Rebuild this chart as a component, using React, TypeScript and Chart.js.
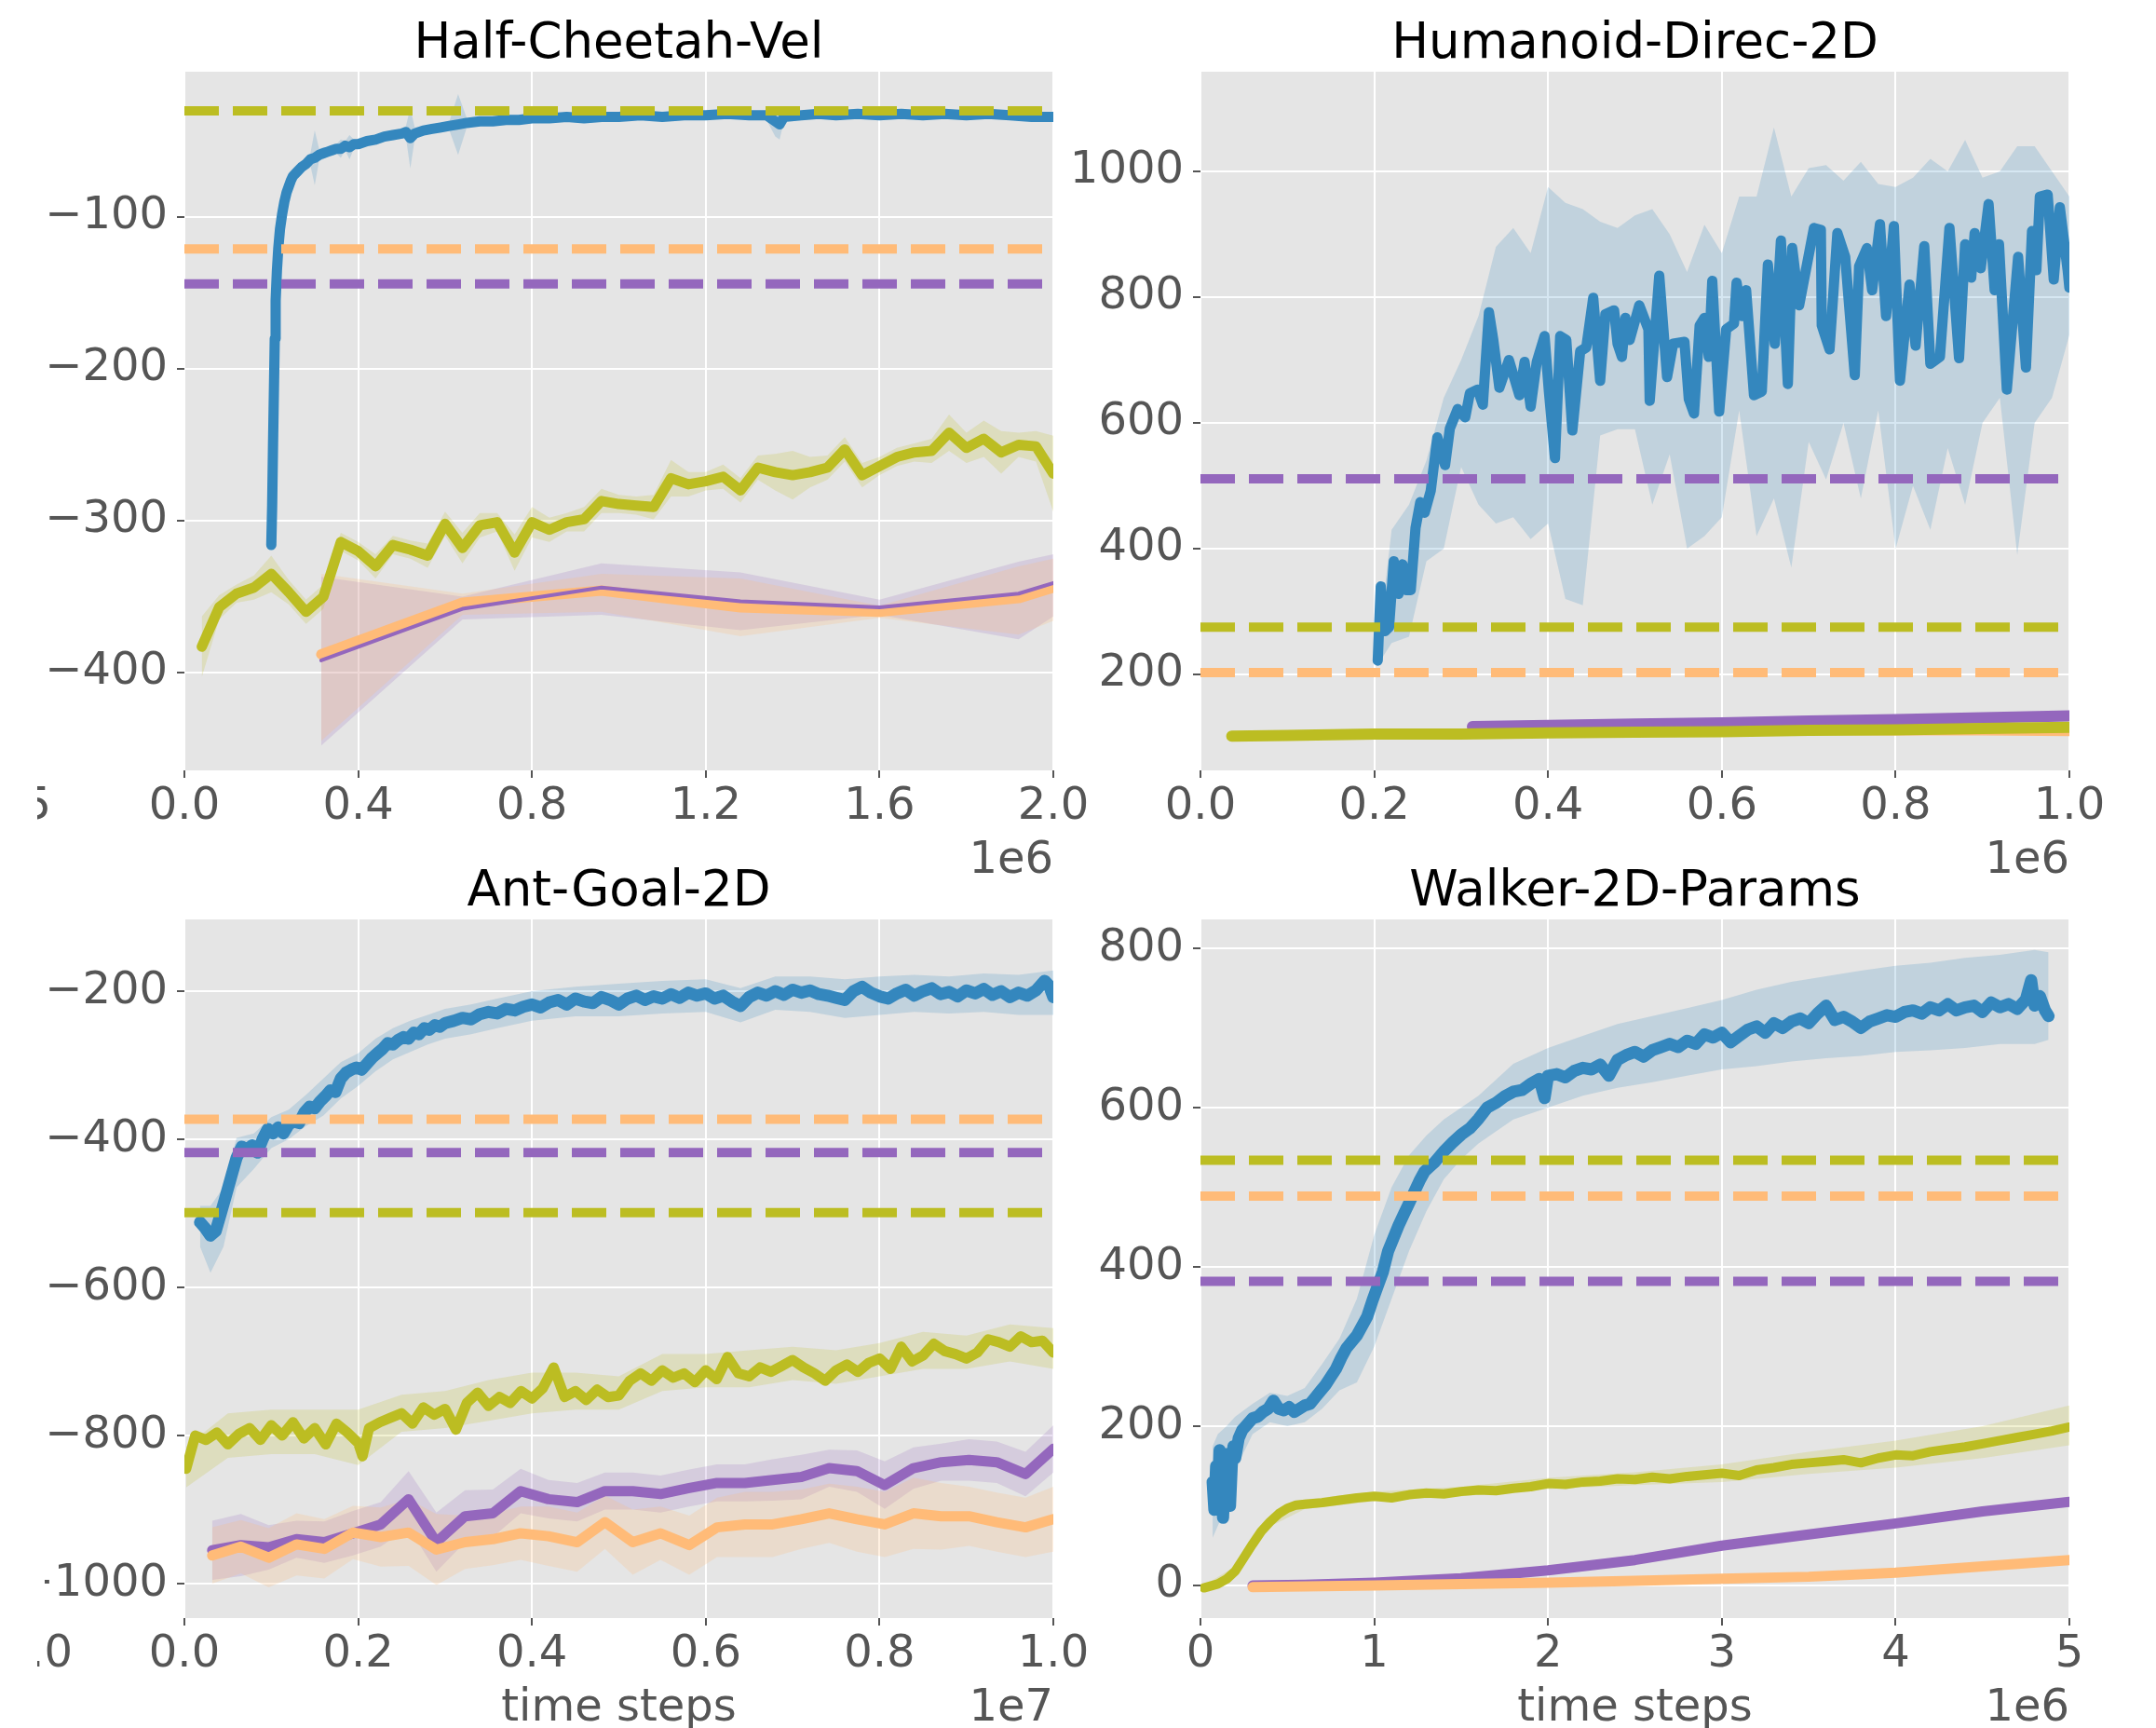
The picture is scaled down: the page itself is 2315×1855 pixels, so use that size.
import React, { useEffect, useRef } from "react";
import { Chart, registerables } from "chart.js";

Chart.register(...registerables);

const FIG_W = 2315;
const FIG_H = 1855;
const FONT = '"DejaVu Sans", sans-serif';
const TICK_SIZE = 48;
const TITLE_SIZE = 53;
const Y_AXIS_W = 150;
const X_AXIS_H = 80;
const X_TICK_PAD = 3;
const Y_TICK_PAD = 10;
const TICK_LEN = 8;

const BLUE = "#3487BE";
const OLIVE = "#BCBD22";
const ORANGE = "#FFBB78";
const PURPLE = "#9467BD";
const BLUE_FILL = "rgba(52,135,190,0.2)";
const OLIVE_FILL = "rgba(188,189,34,0.2)";
const ORANGE_FILL = "rgba(255,187,120,0.22)";
const PURPLE_FILL = "rgba(148,103,189,0.2)";

// ---------------- Half-Cheetah-Vel (x in 1e6) ----------------
const hcBlueX = [0.2,0.202,0.204,0.206,0.208,0.21,0.213,0.216,0.22,0.225,0.23,0.235,0.24,0.245,0.25,0.26,0.27,0.28,0.29,0.3,0.31,0.32,0.33,0.34,0.35,0.36,0.37,0.38,0.39,0.4,0.42,0.44,0.46,0.48,0.5,0.51,0.52,0.53,0.55,0.57,0.59,0.61,0.63,0.65,0.68,0.71,0.74,0.77,0.8,0.84,0.88,0.92,0.96,1.0,1.05,1.1,1.15,1.2,1.25,1.3,1.34,1.36,1.37,1.38,1.42,1.46,1.5,1.55,1.6,1.65,1.7,1.75,1.8,1.85,1.9,1.95,2.0];
const hcBlueY = [-316,-290,-250,-215,-180,-155,-135,-121,-108,-98,-90,-84,-80,-76,-73,-70,-67,-65,-62,-61,-59,-58,-57,-56,-55,-55,-53,-54,-52,-52,-50,-49,-47,-46,-45,-44,-48,-45,-43,-42,-41,-40,-39,-38,-37,-37,-36,-36,-35,-35,-34,-35,-34,-34,-33,-34,-33,-33,-32,-33,-33,-37,-39,-34,-33,-32,-33,-32,-33,-32,-33,-32,-33,-32,-33,-34,-34];
const hcBlueSpread = [4,4,4,4,4,4,4,4,4,4,4,4,4,4,4,4,4,4,4,18,4,4,3,3,3,6,3,8,3,3,3,3,3,3,3,4,20,4,3,3,3,3,20,3,3,3,3,3,3,3,3,3,3,3,3,3,3,3,3,3,3,10,10,3,3,3,3,3,3,3,3,3,3,3,3,3,3];
const hcOliveX = [0.04,0.08,0.12,0.16,0.2,0.24,0.28,0.32,0.36,0.4,0.44,0.48,0.52,0.56,0.6,0.64,0.68,0.72,0.76,0.8,0.84,0.88,0.92,0.96,1.0,1.04,1.08,1.12,1.16,1.2,1.24,1.28,1.32,1.36,1.4,1.44,1.48,1.52,1.56,1.6,1.64,1.68,1.72,1.76,1.8,1.84,1.88,1.92,1.96,2.0];
const hcOliveY = [-383,-357,-348,-344,-335,-347,-360,-350,-314,-320,-330,-316,-319,-323,-302,-318,-303,-301,-321,-301,-306,-301,-299,-287,-289,-290,-291,-272,-276,-274,-271,-280,-265,-268,-270,-268,-265,-253,-270,-264,-258,-255,-254,-242,-252,-246,-255,-250,-251,-269];
const hcOliveSpread = [20,8,6,8,12,8,8,8,6,6,8,6,6,8,8,10,8,6,12,10,8,6,8,8,6,6,8,12,8,6,8,8,8,12,16,10,8,8,8,6,6,6,8,12,10,12,14,8,10,25];
const hcOtherX = [0.315,0.64,0.96,1.28,1.6,1.92,2.0];
const hcOrangeY = [-388,-354,-346,-357,-360,-351,-344];
const hcOrangeLo = [-445,-362,-360,-376,-364,-375,-366];
const hcOrangeHi = [-335,-348,-335,-338,-356,-330,-325];
const hcPurpleY = [-392,-358,-344,-353,-357,-348,-341];
const hcPurpleLo = [-448,-365,-362,-372,-362,-378,-363];
const hcPurpleHi = [-337,-350,-328,-334,-352,-327,-322];
const hcDashed = [-30, -121, -144]; // olive, orange, purple
const hcXTicks = [0, 0.4, 0.8, 1.2, 1.6, 2.0];
const hcXTickLabels = ["0.0", "0.4", "0.8", "1.2", "1.6", "2.0"];
const hcYTicks = [-100, -200, -300, -400];
const hcYTickLabels = ["\u2212100", "\u2212200", "\u2212300", "\u2212400"];

// ---------------- Humanoid-Direc-2D (x in 1e6) ----------------
const humBlueX = [0.204,0.2075,0.2125,0.217,0.2225,0.228,0.2325,0.237,0.242,0.2475,0.253,0.258,0.265,0.2726,0.2815,0.287,0.296,0.3047,0.31,0.319,0.325,0.332,0.337,0.344,0.355,0.367,0.373,0.38,0.387,0.396,0.401,0.408,0.414,0.421,0.428,0.437,0.444,0.452,0.46,0.466,0.476,0.48,0.485,0.489,0.494,0.505,0.5155,0.517,0.528,0.537,0.544,0.557,0.562,0.568,0.5745,0.58,0.585,0.589,0.597,0.605,0.614,0.617,0.623,0.628,0.637,0.646,0.653,0.661,0.668,0.676,0.681,0.689,0.706,0.714,0.715,0.724,0.733,0.742,0.753,0.758,0.767,0.773,0.782,0.789,0.798,0.805,0.816,0.823,0.833,0.84,0.851,0.862,0.873,0.88,0.887,0.891,0.898,0.907,0.914,0.919,0.928,0.941,0.95,0.957,0.962,0.966,0.975,0.982,0.989,0.998,1.0];
const humBlueY = [222,340,269,275,380,328,375,334,334,433,474,457,492,577,533,591,622,609,647,653,629,776,732,656,700,644,697,626,697,738,650,544,738,732,588,714,720,799,667,773,779,726,705,767,732,787,749,635,834,673,726,729,638,615,755,767,705,826,618,749,758,823,770,811,644,650,852,726,890,662,878,787,910,907,755,717,902,864,676,849,878,811,916,770,913,667,820,723,881,694,705,910,703,884,831,902,846,948,811,884,653,864,688,905,843,960,963,828,943,843,815];
const humBandX = [0.204,0.22,0.24,0.26,0.28,0.3,0.32,0.34,0.36,0.38,0.4,0.42,0.44,0.46,0.48,0.5,0.52,0.54,0.56,0.58,0.6,0.62,0.64,0.66,0.68,0.7,0.72,0.74,0.76,0.78,0.8,0.82,0.84,0.86,0.88,0.9,0.92,0.94,0.96,0.98,1.0];
const humBandHi = [240,430,470,540,640,700,770,880,910,870,975,950,940,920,910,930,940,900,840,915,870,960,960,1070,960,1005,1010,985,1015,980,975,990,1020,1000,1050,990,1000,1040,1040,1000,960];
const humBandLo = [215,250,260,380,400,530,470,440,450,415,440,320,310,580,590,590,470,550,400,420,450,620,420,480,370,570,510,600,480,620,400,500,430,560,470,600,640,390,600,640,740];
const humOliveX = [0.036,0.1,0.2,0.3,0.4,0.5,0.6,0.7,0.8,0.9,1.0];
const humOliveY = [102,103,105,105,107,108,109,111,112,114,116];
const humOtherX = [0.313,0.4,0.5,0.6,0.7,0.8,0.9,1.0];
const humPurpleY = [117,119,121,123,126,128,131,134];
const humPurpleLo = [114,115,116,118,120,122,124,127];
const humPurpleHi = [120,123,126,128,132,134,138,141];
const humOrangeY = [116,114,113,112,112,111,111,110];
const humDashed = [275, 203, 511]; // olive, orange, purple
const humXTicks = [0, 0.2, 0.4, 0.6, 0.8, 1.0];
const humXTickLabels = ["0.0", "0.2", "0.4", "0.6", "0.8", "1.0"];
const humYTicks = [200, 400, 600, 800, 1000];
const humYTickLabels = ["200", "400", "600", "800", "1000"];

// ---------------- Ant-Goal-2D (x in 1e7) ----------------
const antBlueX = [0.018,0.024,0.03,0.036,0.042,0.048,0.054,0.06,0.066,0.072,0.078,0.084,0.09,0.096,0.102,0.108,0.114,0.12,0.126,0.132,0.138,0.144,0.15,0.156,0.162,0.168,0.174,0.18,0.186,0.192,0.198,0.204,0.21,0.216,0.222,0.228,0.234,0.24,0.246,0.252,0.258,0.264,0.27,0.276,0.282,0.288,0.294,0.3,0.31,0.32,0.33,0.34,0.35,0.36,0.37,0.38,0.39,0.4,0.41,0.42,0.43,0.44,0.45,0.46,0.47,0.48,0.49,0.5,0.51,0.52,0.53,0.54,0.55,0.56,0.57,0.58,0.59,0.6,0.61,0.62,0.63,0.64,0.65,0.66,0.67,0.68,0.69,0.7,0.71,0.72,0.73,0.74,0.75,0.76,0.77,0.78,0.79,0.8,0.81,0.82,0.83,0.84,0.85,0.86,0.87,0.88,0.89,0.9,0.91,0.92,0.93,0.94,0.95,0.96,0.97,0.98,0.99,0.995,1.0];
const antBlueY = [-512,-520,-530,-524,-500,-475,-450,-425,-410,-414,-408,-418,-400,-386,-392,-384,-392,-380,-376,-378,-364,-356,-358,-349,-342,-334,-336,-318,-310,-306,-303,-306,-298,-290,-284,-278,-270,-272,-266,-262,-264,-256,-258,-250,-252,-246,-248,-243,-240,-236,-238,-231,-228,-230,-224,-226,-221,-218,-222,-215,-212,-218,-210,-214,-216,-208,-212,-218,-210,-206,-212,-207,-210,-204,-209,-202,-206,-203,-210,-206,-214,-220,-208,-202,-206,-200,-205,-198,-202,-199,-204,-206,-209,-212,-200,-194,-202,-207,-210,-203,-198,-206,-200,-196,-204,-201,-207,-199,-203,-197,-205,-200,-208,-202,-206,-199,-186,-192,-208];
const antBandX = [0.018,0.03,0.045,0.06,0.08,0.1,0.12,0.14,0.16,0.18,0.2,0.22,0.24,0.26,0.28,0.3,0.33,0.36,0.4,0.45,0.5,0.55,0.6,0.64,0.68,0.72,0.76,0.8,0.84,0.88,0.92,0.96,1.0];
const antBandLo = [-545,-580,-545,-465,-440,-412,-400,-382,-368,-345,-328,-308,-292,-282,-272,-264,-258,-250,-240,-234,-234,-230,-228,-242,-225,-228,-236,-232,-228,-230,-228,-232,-232];
const antBandHi = [-490,-490,-465,-398,-392,-370,-360,-340,-318,-296,-284,-264,-250,-240,-232,-224,-218,-210,-200,-194,-190,-186,-184,-196,-180,-180,-184,-180,-178,-180,-176,-178,-172];
const antOliveX = [0.002,0.0125,0.025,0.0375,0.05,0.0625,0.075,0.0875,0.1,0.1125,0.125,0.1375,0.15,0.1625,0.175,0.1875,0.2,0.205,0.2125,0.225,0.2375,0.25,0.2625,0.275,0.2875,0.3,0.3125,0.325,0.3375,0.35,0.3625,0.375,0.3875,0.4,0.4125,0.425,0.4375,0.45,0.4625,0.475,0.4875,0.5,0.5125,0.525,0.5375,0.55,0.5625,0.575,0.5875,0.6,0.6125,0.625,0.6375,0.65,0.6625,0.675,0.6875,0.7,0.7125,0.725,0.7375,0.75,0.7625,0.775,0.7875,0.8,0.8125,0.825,0.8375,0.85,0.8625,0.875,0.8875,0.9,0.9125,0.925,0.9375,0.95,0.9625,0.975,0.9875,1.0];
const antOliveY = [-845,-800,-806,-796,-812,-798,-790,-806,-786,-800,-782,-804,-790,-812,-784,-796,-810,-828,-790,-782,-776,-770,-784,-762,-772,-764,-792,-756,-742,-760,-748,-756,-740,-750,-736,-708,-748,-740,-752,-738,-748,-746,-726,-716,-726,-712,-722,-716,-728,-712,-724,-694,-716,-720,-708,-714,-706,-698,-708,-716,-726,-712,-704,-714,-702,-696,-710,-680,-700,-692,-676,-686,-690,-696,-688,-670,-674,-680,-666,-674,-672,-688];
const antOliveBandX = [0.002,0.05,0.1,0.15,0.2,0.25,0.3,0.35,0.4,0.45,0.5,0.55,0.6,0.65,0.7,0.75,0.8,0.85,0.9,0.95,1.0];
const antOliveBandLo = [-870,-830,-825,-825,-840,-795,-790,-780,-770,-765,-765,-740,-735,-735,-725,-730,-720,-710,-710,-700,-710];
const antOliveBandHi = [-815,-770,-765,-765,-765,-745,-740,-725,-715,-715,-720,-690,-690,-685,-680,-685,-675,-660,-665,-650,-655];
const antOtherX = [0.032,0.065,0.097,0.129,0.161,0.194,0.226,0.258,0.29,0.323,0.355,0.387,0.419,0.452,0.484,0.516,0.548,0.581,0.613,0.645,0.677,0.71,0.742,0.774,0.806,0.839,0.871,0.903,0.935,0.968,1.0];
const antPurpleY = [-955,-948,-951,-940,-944,-932,-920,-886,-944,-909,-905,-875,-886,-890,-875,-875,-879,-871,-864,-864,-860,-856,-844,-848,-867,-844,-836,-833,-836,-852,-818];
const antPurpleSpread = [40,42,30,25,28,30,30,38,40,35,32,30,26,26,25,25,25,25,25,25,28,30,25,28,32,28,25,28,28,30,32];
const antOrangeY = [-962,-950,-965,-947,-953,-931,-937,-931,-954,-944,-940,-932,-936,-944,-917,-944,-932,-948,-924,-920,-920,-913,-905,-913,-920,-905,-909,-909,-917,-924,-913];
const antOrangeSpread = [38,36,40,42,40,36,40,45,48,36,35,36,40,40,36,44,36,40,40,44,44,40,40,44,44,48,45,40,40,40,44];
const antDashed = [-499, -373, -418]; // olive, orange, purple
const antXTicks = [0, 0.2, 0.4, 0.6, 0.8, 1.0];
const antXTickLabels = ["0.0", "0.2", "0.4", "0.6", "0.8", "1.0"];
const antYTicks = [-200, -400, -600, -800, -1000];
const antYTickLabels = ["\u2212200", "\u2212400", "\u2212600", "\u2212800", "\u22121000"];

// ---------------- Walker-2D-Params (x in 1e6) ----------------
const walkBlueX = [0.07,0.08,0.09,0.1,0.11,0.12,0.13,0.14,0.15,0.16,0.17,0.18,0.19,0.2,0.22,0.24,0.26,0.28,0.3,0.33,0.36,0.39,0.42,0.45,0.48,0.51,0.54,0.57,0.6,0.63,0.66,0.69,0.72,0.75,0.78,0.81,0.84,0.87,0.9,0.93,0.96,0.99,1.02,1.05,1.08,1.11,1.14,1.17,1.2,1.23,1.26,1.29,1.32,1.35,1.4,1.45,1.5,1.55,1.6,1.65,1.7,1.75,1.8,1.85,1.9,1.95,1.98,2.0,2.05,2.1,2.15,2.2,2.25,2.3,2.35,2.4,2.45,2.5,2.55,2.6,2.65,2.7,2.75,2.8,2.85,2.9,2.95,3.0,3.05,3.1,3.15,3.2,3.25,3.3,3.35,3.4,3.45,3.5,3.55,3.6,3.65,3.7,3.75,3.8,3.85,3.9,3.95,4.0,4.05,4.1,4.15,4.2,4.25,4.3,4.35,4.4,4.45,4.5,4.55,4.6,4.65,4.7,4.75,4.78,4.8,4.83,4.86,4.88];
const walkBlueY = [130,95,150,110,170,120,85,140,165,120,100,150,175,160,185,195,200,205,210,212,218,222,232,222,220,224,218,222,226,228,236,244,252,262,272,286,298,306,314,326,338,358,376,394,420,436,452,466,480,494,508,520,526,532,545,556,566,574,586,600,606,614,620,622,630,636,612,640,642,638,646,650,648,654,640,660,666,670,664,672,676,680,676,684,680,692,688,694,682,690,698,702,694,706,700,708,712,706,718,728,710,714,708,700,708,712,716,714,720,722,718,726,722,730,722,726,728,720,732,726,730,724,736,760,728,740,722,715];
const walkBandX = [0.07,0.1,0.15,0.2,0.3,0.4,0.5,0.6,0.7,0.8,0.9,1.0,1.1,1.2,1.3,1.4,1.5,1.6,1.8,2.0,2.2,2.4,2.6,2.8,3.0,3.2,3.4,3.6,3.8,4.0,4.2,4.4,4.6,4.8,4.88];
const walkBandLo = [60,75,100,145,190,205,200,205,222,245,255,300,360,420,470,510,535,555,585,600,615,625,632,640,648,652,658,662,665,670,672,675,680,680,685];
const walkBandHi = [175,190,200,212,228,242,238,248,278,310,360,440,500,540,565,585,600,615,655,675,690,705,715,725,735,748,758,765,772,778,782,788,792,798,795];
const walkOliveX = [0.02,0.1,0.15,0.2,0.25,0.3,0.35,0.4,0.45,0.5,0.55,0.6,0.7,0.8,0.9,1.0,1.1,1.2,1.3,1.4,1.5,1.6,1.7,1.8,1.9,2.0,2.1,2.2,2.3,2.4,2.5,2.6,2.7,2.8,2.9,3.0,3.1,3.2,3.3,3.4,3.5,3.6,3.7,3.8,3.9,4.0,4.1,4.2,4.3,4.4,4.5,4.6,4.7,4.8,4.9,5.0];
const walkOliveY = [-3,2,8,18,35,52,68,80,90,97,101,102,104,107,110,112,110,114,116,115,118,120,119,122,124,128,127,130,131,134,133,136,134,137,139,141,138,145,148,152,154,156,158,154,160,164,163,168,171,174,178,182,186,190,194,199];
const walkOliveBandX = [0.02,0.2,0.3,0.4,0.6,1.0,1.5,2.0,2.5,3.0,3.5,4.0,4.5,5.0];
const walkOliveBandLo = [-6,13,46,74,96,106,112,121,126,130,140,148,160,176];
const walkOliveBandHi = [0,24,58,86,108,118,124,135,142,152,168,182,200,226];
const walkPurpleX = [0.3,0.6,1.0,1.5,2.0,2.5,3.0,3.5,4.0,4.5,5.0];
const walkPurpleY = [0,1,3.5,9,19,32,50,64,78,93,105];
const walkPurpleLo = [-2,-1,1,6,15,28,45,59,73,88,99];
const walkPurpleHi = [2,3,6,12,23,36,55,69,83,98,111];
const walkOrangeX = [0.3,1.0,2.0,2.5,3.0,3.5,4.0,4.5,5.0];
const walkOrangeY = [-2,0,3.5,6,8.5,11,16,24,32];
const walkDashed = [534, 489, 382]; // olive, orange, purple
const walkXTicks = [0, 1, 2, 3, 4, 5];
const walkXTickLabels = ["0", "1", "2", "3", "4", "5"];
const walkYTicks = [0, 200, 400, 600, 800];
const walkYTickLabels = ["0", "200", "400", "600", "800"];

// cut-off tick-label fragments at the figure's left edge
const fragTopText = "2.5";
const fragBottomText = "1.0";

type Pt = { x: number; y: number };
const pts = (xs: number[], ys: number[]): Pt[] => xs.map((x, i) => ({ x, y: ys[i] }));
const lowerOf = (ys: number[], s: number[]) => ys.map((v, i) => v - s[i]);
const upperOf = (ys: number[], s: number[]) => ys.map((v, i) => v + s[i]);

type LineSpec = { x: number[]; y: number[]; color: string; width: number; order: number };
type BandSpec = { x: number[]; lo: number[]; hi: number[]; color: string; order: number };
type PanelSpec = {
  title: string;
  left: number; right: number; top: number; bottom: number;
  xMin: number; xMax: number; yMin: number; yMax: number;
  xTicks: number[]; xTickLabels: string[]; yTicks: number[]; yTickLabels: string[];
  offsetText: string; xLabel?: string;
  clipLeft?: number; fragment?: { text: string; right: number };
  bands: BandSpec[]; lines: LineSpec[]; dashed: number[];
};

const DASH_COLORS = [OLIVE, ORANGE, PURPLE];

const panels: PanelSpec[] = [
  {
    title: "Half-Cheetah-Vel",
    left: 198, right: 1131, top: 77, bottom: 827,
    xMin: 0, xMax: 2.0, yMin: -464.4, yMax: -4.3,
    xTicks: hcXTicks, xTickLabels: hcXTickLabels, yTicks: hcYTicks, yTickLabels: hcYTickLabels,
    offsetText: "1e6", clipLeft: 40, fragment: { text: fragTopText, right: 55 },
    bands: [
      { x: hcOtherX, lo: hcPurpleLo, hi: hcPurpleHi, color: PURPLE_FILL, order: 30 },
      { x: hcOtherX, lo: hcOrangeLo, hi: hcOrangeHi, color: ORANGE_FILL, order: 29 },
      { x: hcOliveX, lo: lowerOf(hcOliveY, hcOliveSpread), hi: upperOf(hcOliveY, hcOliveSpread), color: OLIVE_FILL, order: 28 },
      { x: hcBlueX, lo: lowerOf(hcBlueY, hcBlueSpread), hi: upperOf(hcBlueY, hcBlueSpread), color: BLUE_FILL, order: 27 },
    ],
    lines: [
      { x: hcOtherX, y: hcOrangeY, color: ORANGE, width: 11, order: 9 },
      { x: hcOtherX, y: hcPurpleY, color: PURPLE, width: 4, order: 8 },
      { x: hcOliveX, y: hcOliveY, color: OLIVE, width: 11, order: 7 },
      { x: hcBlueX, y: hcBlueY, color: BLUE, width: 11, order: 6 },
    ],
    dashed: hcDashed,
  },
  {
    title: "Humanoid-Direc-2D",
    left: 1289, right: 2222, top: 77, bottom: 827,
    xMin: 0, xMax: 1.0, yMin: 47.4, yMax: 1158.5,
    xTicks: humXTicks, xTickLabels: humXTickLabels, yTicks: humYTicks, yTickLabels: humYTickLabels,
    offsetText: "1e6",
    bands: [
      { x: humOtherX, lo: humPurpleLo, hi: humPurpleHi, color: PURPLE_FILL, order: 30 },
      { x: humBandX, lo: humBandLo, hi: humBandHi, color: BLUE_FILL, order: 27 },
    ],
    lines: [
      { x: humOtherX, y: humOrangeY, color: ORANGE, width: 11, order: 10 },
      { x: humOtherX, y: humPurpleY, color: PURPLE, width: 12, order: 9 },
      { x: humOliveX, y: humOliveY, color: OLIVE, width: 12, order: 7 },
      { x: humBlueX, y: humBlueY, color: BLUE, width: 11, order: 6 },
    ],
    dashed: humDashed,
  },
  {
    title: "Ant-Goal-2D",
    left: 198, right: 1131, top: 987, bottom: 1737,
    xMin: 0, xMax: 1.0, yMin: -1046.5, yMax: -103.1,
    xTicks: antXTicks, xTickLabels: antXTickLabels, yTicks: antYTicks, yTickLabels: antYTickLabels,
    offsetText: "1e7", xLabel: "time steps", clipLeft: 40, fragment: { text: fragBottomText, right: 78 },
    bands: [
      { x: antOtherX, lo: lowerOf(antPurpleY, antPurpleSpread), hi: upperOf(antPurpleY, antPurpleSpread), color: PURPLE_FILL, order: 30 },
      { x: antOtherX, lo: lowerOf(antOrangeY, antOrangeSpread), hi: upperOf(antOrangeY, antOrangeSpread), color: ORANGE_FILL, order: 29 },
      { x: antOliveBandX, lo: antOliveBandLo, hi: antOliveBandHi, color: OLIVE_FILL, order: 28 },
      { x: antBandX, lo: antBandLo, hi: antBandHi, color: BLUE_FILL, order: 27 },
    ],
    lines: [
      { x: antOtherX, y: antPurpleY, color: PURPLE, width: 11, order: 10 },
      { x: antOtherX, y: antOrangeY, color: ORANGE, width: 11, order: 9 },
      { x: antOliveX, y: antOliveY, color: OLIVE, width: 11, order: 7 },
      { x: antBlueX, y: antBlueY, color: BLUE, width: 13, order: 6 },
    ],
    dashed: antDashed,
  },
  {
    title: "Walker-2D-Params",
    left: 1289, right: 2222, top: 987, bottom: 1737,
    xMin: 0, xMax: 5, yMin: -40.9, yMax: 836.3,
    xTicks: walkXTicks, xTickLabels: walkXTickLabels, yTicks: walkYTicks, yTickLabels: walkYTickLabels,
    offsetText: "1e6", xLabel: "time steps",
    bands: [
      { x: walkPurpleX, lo: walkPurpleLo, hi: walkPurpleHi, color: PURPLE_FILL, order: 30 },
      { x: walkOliveBandX, lo: walkOliveBandLo, hi: walkOliveBandHi, color: OLIVE_FILL, order: 28 },
      { x: walkBandX, lo: walkBandLo, hi: walkBandHi, color: BLUE_FILL, order: 27 },
    ],
    lines: [
      { x: walkPurpleX, y: walkPurpleY, color: PURPLE, width: 11, order: 10 },
      { x: walkOrangeX, y: walkOrangeY, color: ORANGE, width: 11, order: 9 },
      { x: walkOliveX, y: walkOliveY, color: OLIVE, width: 10, order: 7 },
      { x: walkBlueX, y: walkBlueY, color: BLUE, width: 13, order: 6 },
    ],
    dashed: walkDashed,
  },
];

function buildConfig(spec: PanelSpec): any {
  const datasets: any[] = [];
  for (const b of spec.bands) {
    datasets.push({
      data: pts(b.x, b.lo), borderWidth: 0, borderColor: "transparent", pointRadius: 0,
      fill: false, order: b.order, clip: 0, tension: 0,
    });
    datasets.push({
      data: pts(b.x, b.hi), borderWidth: 0, borderColor: "transparent", pointRadius: 0,
      fill: "-1", backgroundColor: b.color, order: b.order, clip: 0, tension: 0,
    });
  }
  for (const l of spec.lines) {
    datasets.push({
      data: pts(l.x, l.y), borderColor: l.color, borderWidth: l.width, pointRadius: 0,
      fill: false, order: l.order, clip: 0, tension: 0,
      borderJoinStyle: "round", borderCapStyle: "round",
    });
  }
  spec.dashed.forEach((v, i) => {
    datasets.push({
      data: [{ x: spec.xMin, y: v }, { x: spec.xMax, y: v }],
      borderColor: DASH_COLORS[i], borderWidth: 10, borderDash: [37, 15], borderCapStyle: "butt",
      pointRadius: 0, fill: false, order: 3 - i, clip: 0,
    });
  });

  const deco = {
    id: "deco",
    beforeDraw(chart: any) {
      const { ctx, chartArea: a } = chart;
      ctx.save();
      if (spec.clipLeft) {
        ctx.beginPath();
        ctx.rect(spec.clipLeft, 0, FIG_W, FIG_H);
        ctx.clip();
      }
      ctx.fillStyle = "#E5E5E5";
      ctx.fillRect(a.left, a.top, a.right - a.left, a.bottom - a.top);
    },
    afterDraw(chart: any) {
      const { ctx, chartArea: a } = chart;
      const cx = (a.left + a.right) / 2;
      ctx.save();
      ctx.fillStyle = "#000000";
      ctx.font = `${TITLE_SIZE}px ${FONT}`;
      ctx.textAlign = "center";
      ctx.textBaseline = "alphabetic";
      ctx.fillText(spec.title, cx, a.top - 15);
      ctx.fillStyle = "#555555";
      ctx.font = `${TICK_SIZE}px ${FONT}`;
      ctx.textAlign = "right";
      ctx.fillText(spec.offsetText, a.right, a.bottom + 110);
      if (spec.xLabel) {
        ctx.textAlign = "center";
        ctx.fillText(spec.xLabel, cx, a.bottom + 110);
      }
      if (spec.fragment) {
        ctx.textAlign = "right";
        ctx.textBaseline = "middle";
        ctx.fillText(spec.fragment.text, spec.fragment.right, a.bottom + TICK_LEN + X_TICK_PAD + TICK_SIZE * 0.6);
      }
      ctx.restore();
      ctx.restore();
    },
  };

  const tickFont = { family: FONT, size: TICK_SIZE };
  return {
    type: "line",
    data: { datasets },
    plugins: [deco],
    options: {
      responsive: false,
      maintainAspectRatio: false,
      animation: false,
      devicePixelRatio: 1,
      events: [],
      layout: {
        padding: {
          left: spec.left - Y_AXIS_W,
          right: FIG_W - spec.right,
          top: spec.top,
          bottom: FIG_H - spec.bottom - X_AXIS_H,
        },
      },
      plugins: { legend: { display: false }, tooltip: { enabled: false }, title: { display: false } },
      scales: {
        x: {
          type: "linear", min: spec.xMin, max: spec.xMax, bounds: "data",
          afterFit: (s: any) => { s.height = X_AXIS_H; },
          afterBuildTicks: (s: any) => { s.ticks = spec.xTicks.map((v) => ({ value: v })); },
          grid: { color: "#FFFFFF", lineWidth: 2, drawTicks: true, tickLength: TICK_LEN, tickColor: "#555555", tickWidth: 2 },
          border: { display: false },
          ticks: {
            autoSkip: false, maxRotation: 0, minRotation: 0, padding: X_TICK_PAD, color: "#555555", font: tickFont,
            callback: (_v: any, i: number) => spec.xTickLabels[i],
          },
        },
        y: {
          type: "linear", min: spec.yMin, max: spec.yMax, bounds: "data",
          afterFit: (s: any) => { s.width = Y_AXIS_W; },
          afterBuildTicks: (s: any) => { s.ticks = spec.yTicks.map((v) => ({ value: v })); },
          grid: { color: "#FFFFFF", lineWidth: 2, drawTicks: true, tickLength: TICK_LEN, tickColor: "#555555", tickWidth: 2 },
          border: { display: false },
          ticks: {
            autoSkip: false, padding: Y_TICK_PAD, color: "#555555", font: tickFont,
            callback: (_v: any, i: number) => spec.yTickLabels[i],
          },
        },
      },
    },
  };
}

function Panel({ spec }: { spec: PanelSpec }) {
  const ref = useRef<HTMLCanvasElement | null>(null);
  useEffect(() => {
    if (!ref.current) return;
    const chart = new Chart(ref.current, buildConfig(spec));
    return () => chart.destroy();
  }, [spec]);
  return (
    <canvas
      ref={ref}
      width={FIG_W}
      height={FIG_H}
      style={{ position: "absolute", left: 0, top: 0, width: FIG_W, height: FIG_H, display: "block" }}
    />
  );
}

export default function App() {
  Chart.defaults.font.family = FONT;
  return (
    <div style={{ position: "absolute", left: 0, top: 0, width: FIG_W, height: FIG_H, background: "#FFFFFF", overflow: "hidden" }}>
      {panels.map((p, i) => (
        <Panel key={i} spec={p} />
      ))}
    </div>
  );
}
